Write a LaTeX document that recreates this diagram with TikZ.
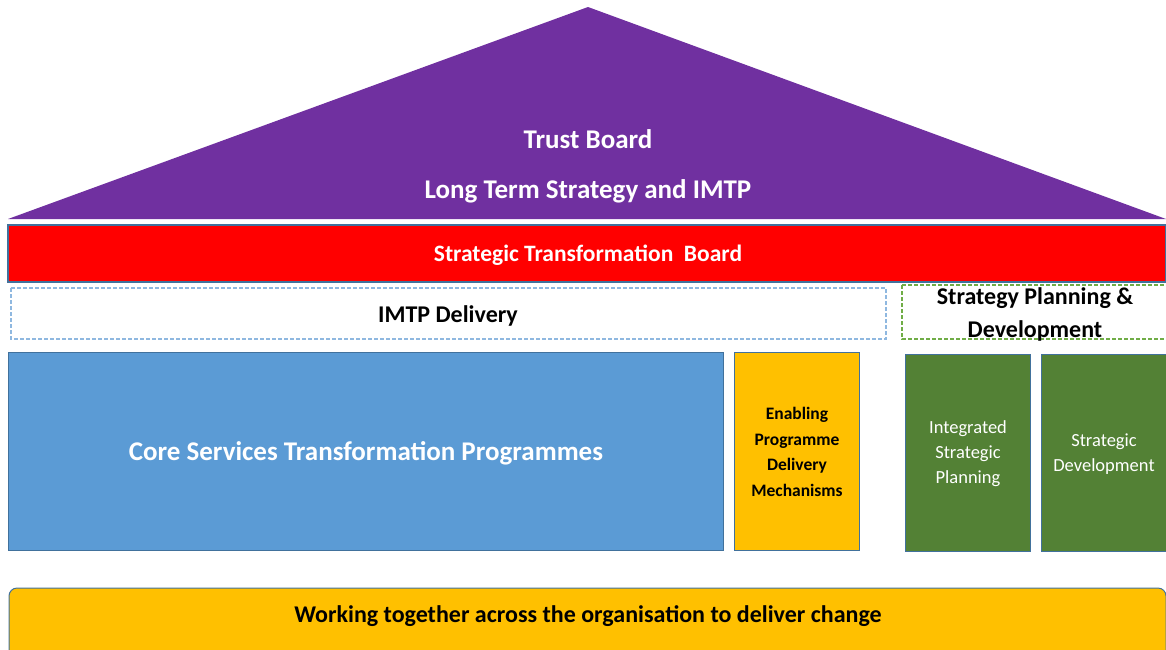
\documentclass[tikz,border=0pt]{standalone}
\usepackage{fontspec}
\setmainfont{Carlito}
\definecolor{roofpurple}{HTML}{7030A0}
\definecolor{edgeblue}{HTML}{41719C}
\definecolor{dashblue}{HTML}{8FB8E0}
\definecolor{dashgreen}{HTML}{70AD47}
\definecolor{coreblue}{HTML}{5B9BD5}
\definecolor{ambery}{HTML}{FFC000}
\definecolor{leafgreen}{HTML}{538135}
\begin{document}
\begin{tikzpicture}[x=1pt,y=-1pt,
  solidbox/.style={draw=edgeblue,line width=1pt},
  dashbox/.style={dash pattern=on 4pt off 2pt,line width=1.3pt},
  lbl/.style={font=\bfseries,align=center,inner sep=0pt},
]
\useasboundingbox (0,0) rectangle (1166,649);
% roof
\fill[roofpurple] (588,7) coordinate (apex) -- (1166,219) -- (8,219) -- cycle;
\node[lbl,text=white,font=\bfseries\fontsize{27}{30}\selectfont] (tb) at (588,139) {Trust Board};
\node[lbl,text=white,font=\bfseries\fontsize{27}{30}\selectfont] (lts) at (588,191) {Long Term Strategy and IMTP};
% red bar
\draw[solidbox,fill=red,line width=1.6pt] (8,225) rectangle (1166,282);
\node[lbl,text=white,font=\bfseries\fontsize{23.5}{26}\selectfont] (stb) at (588,255) {Strategic Transformation\ \ Board};
% dashed headers
\draw[dashbox,draw=dashblue] (11,288) rectangle (886,339);
\node[lbl,font=\bfseries\fontsize{24}{26}\selectfont] (imtp) at (448,316) {IMTP Delivery};
\draw[dashbox,draw=dashgreen] (902,285) rectangle (1168,339);
\node[lbl,font=\bfseries\fontsize{24}{33}\selectfont] (spd) at (1035,314) {Strategy Planning \&\\Development};
% columns
\draw[solidbox,fill=coreblue] (8,352) rectangle (723,550);
\node[lbl,text=white,font=\bfseries\fontsize{27}{30}\selectfont] (core) at (366,453) {Core Services Transformation Programmes};
\draw[solidbox,fill=ambery] (734,352) rectangle (859,550);
\node[lbl,font=\bfseries\fontsize{17.5}{25.5}\selectfont] (enab) at (797,452) {Enabling\\Programme\\Delivery\\Mechanisms};
\draw[solidbox,fill=leafgreen] (905,354) rectangle (1030,551);
\node[lbl,text=white,font=\fontsize{18.5}{25}\selectfont] (isp) at (968,454) {Integrated\\Strategic\\Planning};
\draw[solidbox,fill=leafgreen] (1041,354) rectangle (1168,551);
\node[lbl,text=white,font=\fontsize{18.5}{25}\selectfont] (sd) at (1104,454) {Strategic\\Development};
% bottom bar
\draw[solidbox,fill=ambery,rounded corners=8pt] (9,588) rectangle (1166,660);
\node[lbl,font=\bfseries\fontsize{24}{26}\selectfont] (work) at (588,616) {Working together across the organisation to deliver change};
\end{tikzpicture}
\end{document}
